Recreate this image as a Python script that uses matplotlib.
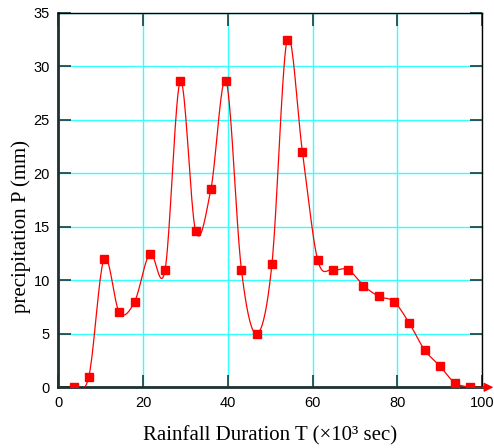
import numpy as np
import matplotlib
matplotlib.use("Agg")
import matplotlib.pyplot as plt

# rainfall hyetograph: duration in 10^3 s, precipitation per step in mm
duration = [3.6, 7.2, 10.8, 14.4, 18.0, 21.6, 25.2, 28.8, 32.4, 36.0, 39.6, 43.2, 46.8, 50.4,
            54.0, 57.6, 61.2, 64.8, 68.4, 72.0, 75.6, 79.2, 82.8, 86.4, 90.0, 93.6, 97.2]
precip = [0.0, 1.0, 12.0, 7.0, 8.0, 12.5, 11.0, 28.6, 14.6, 18.5, 28.6, 11.0, 5.0, 11.5,
          32.5, 22.0, 11.9, 11.0, 11.0, 9.5, 8.5, 8.0, 6.0, 3.5, 2.0, 0.4, 0.0]

x_ticks = [0, 20, 40, 60, 80, 100]
y_ticks = [0, 5, 10, 15, 20, 25, 30, 35]


def catmull_rom(x, y, n=20):
    x = np.asarray(x, float)
    y = np.asarray(y, float)
    px = np.concatenate([[2 * x[0] - x[1]], x, [2 * x[-1] - x[-2]]])
    py = np.concatenate([[2 * y[0] - y[1]], y, [2 * y[-1] - y[-2]]])
    xs, ys = [], []
    t = np.linspace(0, 1, n, endpoint=False)
    for i in range(1, len(px) - 2):
        for p, out in ((px, xs), (py, ys)):
            p0, p1, p2, p3 = p[i - 1], p[i], p[i + 1], p[i + 2]
            out.append(0.5 * (2 * p1 + (-p0 + p2) * t + (2 * p0 - 5 * p1 + 4 * p2 - p3) * t ** 2
                              + (-p0 + 3 * p1 - 3 * p2 + p3) * t ** 3))
    xs.append([x[-1]])
    ys.append([y[-1]])
    return np.concatenate(xs), np.concatenate(ys)


fig = plt.figure(figsize=(4.94, 4.48), dpi=100)
ax = fig.add_axes([0.118, 0.1355, 0.858, 0.836])

sx, sy = catmull_rom(duration, precip)
ax.plot(sx, sy, color="red", lw=0.9, zorder=3)
ax.plot(duration, precip, ls="none", marker="s", ms=5.2, color="red", zorder=4)

# time axis arrow past the last sample
ax.annotate("", xy=(103.3, 0), xytext=(duration[-1], precip[-1]),
            arrowprops=dict(arrowstyle="-|>", color="red", lw=0.9, mutation_scale=14),
            annotation_clip=False, zorder=5)

ax.set_xlim(0, 100)
ax.set_ylim(0, 35)
ax.set_xticks(x_ticks)
ax.set_yticks(y_ticks)
ax.grid(True, color="#33ffff", lw=1.0)
ax.set_axisbelow(True)
ax.tick_params(direction="in", length=9, width=1.2, color="#1e3c3c",
               top=True, right=True, labelsize=10.5, pad=6)
for lab in ax.get_xticklabels() + ax.get_yticklabels():
    lab.set_family("Liberation Sans")

ax.spines["left"].set_linewidth(2.0)
ax.spines["bottom"].set_linewidth(2.0)
ax.spines["left"].set_color("#1e3030")
ax.spines["bottom"].set_color("#1e3030")
ax.spines["top"].set_linewidth(1.0)
ax.spines["right"].set_linewidth(1.0)

ax.set_xlabel("Rainfall Duration T (\u00d710\u00b3 sec)", family="Liberation Serif",
              fontsize=15, labelpad=12)
ax.set_ylabel("precipitation P (mm)", family="Liberation Serif", fontsize=15)
ax.yaxis.set_label_coords(-0.064, 0.43)

fig.savefig("out.png", dpi=100)
